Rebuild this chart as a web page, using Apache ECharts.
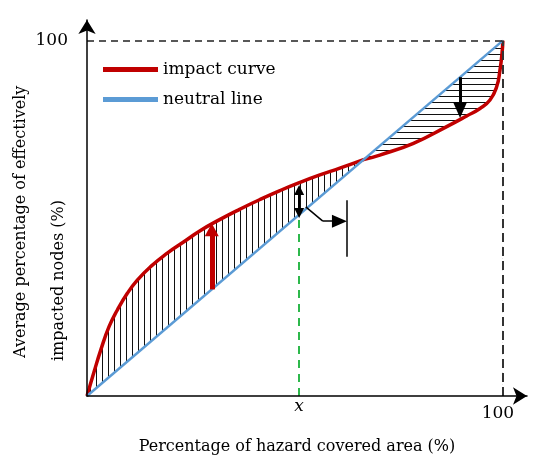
<!DOCTYPE html>
<html>
<head>
<meta charset="utf-8">
<title>Impact curve</title>
<script src="https://cdn.jsdelivr.net/npm/echarts@6/dist/echarts.min.js"></script>
<style>
  html, body { margin: 0; padding: 0; background: #fff; }
  #chart { width: 534px; height: 459px; }
</style>
</head>
<body>
<div id="chart"></div>
<script>
// impact curve g(x), split where it crosses the neutral line
const impactLeft = [[0, 0], [1.7, 6.8], [3.3, 12.9], [5.3, 19.5], [7.3, 24.2], [9.7, 28.9], [12.1, 32.6],
  [15.3, 36.4], [19.3, 40.2], [23.3, 43.4], [27.2, 46.5], [32, 49.7], [36.8, 52.6], [41.6, 55.3],
  [46.4, 57.8], [51.2, 60.1], [56, 62.2], [60.8, 64.1], [66.5, 66.5]]
const impactRight = [[66.5, 66.5], [70.4, 67.8], [78.5, 71.1], [86.5, 75.8], [91.3, 78.8], [94.5, 80.9],
  [96.9, 83.3], [98.5, 87], [99.3, 91.7], [99.8, 96.5], [100, 100]]
// neutral line g_NL(x) = x
const neutralLeft = [[0, 0], [67.2, 67.2]]
const neutralRight = [[66.5, 66.5], [100, 100]]
const neutralLine = [[0, 0], [100, 100]]

// x position of the marked point and axis tick labels
const xMark = 51
const xTicks = [xMark, 100]
const yTicks = [100]

// annotation marks in data units
const redArrow = [[30, 30], [30, 46.8]]
const blackArrow = [[89.7, 89.7], [89.7, 80.5]]
const gapArrow = [[xMark, 51.5], [xMark, 58]]
const pointer = [[52.6, 53.2], [56.7, 49.2], [60.7, 49.2]]
const pointerBar = [[62.5, 55.1], [62.5, 39.2]]

const RED = '#C00000'
const BLUE = '#5B9BD5'
const SERIF = '"DejaVu Serif", "Liberation Serif", serif'
const SMOOTH = 0.5

function hatch(vertical) {
  const c = document.createElement('canvas')
  c.width = 6
  c.height = 6
  const g = c.getContext('2d')
  g.fillStyle = '#fff'
  g.fillRect(0, 0, 6, 6)
  g.fillStyle = '#111'
  if (vertical) g.fillRect(0, 0, 1, 6)
  else g.fillRect(0, 0, 6, 1)
  return { image: c, repeat: 'repeat' }
}

function areaSeries(data, fill, z) {
  return {
    type: 'line', data, z, silent: true,
    smooth: data.length > 2 ? SMOOTH : false,
    showSymbol: false,
    lineStyle: { width: 0 },
    areaStyle: { color: fill, opacity: 1 }
  }
}

function lineSeries(name, data, color, width, z) {
  return {
    name, type: 'line', data, z, silent: true,
    smooth: data.length > 2 ? SMOOTH : false,
    showSymbol: false,
    itemStyle: { color },
    lineStyle: { color, width }
  }
}

function seg(a, b, style, endSymbol, startSymbol) {
  return [
    Object.assign({ coord: a, lineStyle: style }, startSymbol || { symbol: 'none' }),
    Object.assign({ coord: b }, endSymbol || { symbol: 'none' })
  ]
}

const chart = echarts.init(document.getElementById('chart'))

chart.setOption({
  animation: false,
  grid: { left: 87, right: 7, top: 20, bottom: 63, outerBoundsMode: 'none' },
  legend: {
    data: ['impact curve', 'neutral line'],
    orient: 'vertical', left: 103, top: 61, padding: 0,
    icon: 'rect', itemWidth: 55, itemHeight: 5, itemGap: 13,
    selectedMode: false,
    textStyle: { fontFamily: SERIF, fontSize: 17, color: '#000' }
  },
  xAxis: {
    type: 'value', min: 0, max: 105.8, z: 10,
    splitLine: { show: false },
    axisTick: { show: false },
    axisLine: { lineStyle: { color: '#000', width: 1.5 }, symbol: ['none', 'arrow'], symbolSize: [13, 14] },
    axisLabel: {
      customValues: xTicks, margin: 2,
      formatter: (v) => v === 100 ? '{n|100}' : '{i|x}',
      rich: {
        n: { fontFamily: SERIF, fontSize: 17, color: '#000', padding: [7, 10, 0, 0] },
        i: { fontFamily: SERIF, fontSize: 17, fontStyle: 'italic', color: '#000' }
      }
    },
    name: 'Percentage of hazard covered area (%)',
    nameLocation: 'middle', nameGap: 43,
    nameTextStyle: { fontFamily: SERIF, fontSize: 16, color: '#000', padding: [0, 20, 0, 0] }
  },
  yAxis: {
    type: 'value', min: 0, max: 105.8, z: 10,
    splitLine: { show: false },
    axisTick: { show: false },
    axisLine: { lineStyle: { color: '#000', width: 1.5 }, symbol: ['none', 'arrow'], symbolSize: [13, 14] },
    axisLabel: {
      customValues: yTicks, margin: 19,
      fontFamily: SERIF, fontSize: 17, color: '#000'
    }
  },
  graphic: [
    {
      type: 'text', x: 21, y: 358, rotation: Math.PI / 2, silent: true,
      style: { text: 'Average percentage of effectively', fontFamily: SERIF, fontSize: 16,
        fill: '#000', align: 'left', verticalAlign: 'middle' }
    },
    {
      type: 'text', x: 59, y: 361, rotation: Math.PI / 2, silent: true,
      style: { text: 'impacted nodes (%)', fontFamily: SERIF, fontSize: 16,
        fill: '#000', align: 'left', verticalAlign: 'middle' }
    },
    {
      type: 'text', x: 380, y: 231, silent: true,
      style: {
        text: '{i|g(x)-g}{s|NL}{i|(x)}',
        verticalAlign: 'middle',
        rich: {
          i: { fontFamily: SERIF, fontSize: 17, fontStyle: 'italic', fill: '#000' },
          s: { fontFamily: SERIF, fontSize: 11, fontStyle: 'italic', fill: '#000', padding: [8, 0, 0, 0] }
        }
      }
    }
  ],
  series: [
    // hatched gaps: pattern under the upper curve, white under the lower one
    areaSeries(impactLeft, hatch(true), 1),
    areaSeries(neutralRight, hatch(false), 1),
    areaSeries(neutralLeft, '#fff', 2),
    areaSeries(impactRight, '#fff', 2),
    lineSeries('impact curve', impactLeft, RED, 3.5, 3),
    lineSeries('impact curve', impactRight, RED, 3.5, 3),
    lineSeries('neutral line', neutralLine, BLUE, 2.5, 4),
    {
      name: 'notes', type: 'line', data: [], silent: true,
      markLine: {
        silent: true, animation: false,
        symbol: ['none', 'none'],
        label: { show: false },
        data: [
          seg([0, 100], [100, 100], { type: [7, 5], color: '#222', width: 1.5 }),
          seg([100, 0], [100, 100], { type: [9, 5], color: '#333', width: 2 }),
          seg([xMark, 0], [xMark, xMark], { type: [8, 6], color: '#2DB84B', width: 2 }),
          seg(redArrow[0], redArrow[1], { type: 'solid', color: RED, width: 5 },
            { symbol: 'triangle', symbolSize: [14, 13] }),
          seg(blackArrow[0], blackArrow[1], { type: 'solid', color: '#000', width: 3 },
            { symbol: 'triangle', symbolSize: [14, 16] }),
          seg(gapArrow[0], gapArrow[1], { type: 'solid', color: '#000', width: 2 },
            { symbol: 'triangle', symbolSize: [10, 10] }, { symbol: 'triangle', symbolSize: [10, 10] }),
          seg(pointer[0], pointer[1], { type: 'solid', color: '#000', width: 1.5 }),
          seg(pointer[1], pointer[2], { type: 'solid', color: '#000', width: 1.5 },
            { symbol: 'triangle', symbolSize: [13, 15] }),
          seg(pointerBar[0], pointerBar[1], { type: 'solid', color: '#000', width: 1.5 })
        ]
      }
    }
  ]
})

window.addEventListener('resize', () => chart.resize())
</script>
</body>
</html>
